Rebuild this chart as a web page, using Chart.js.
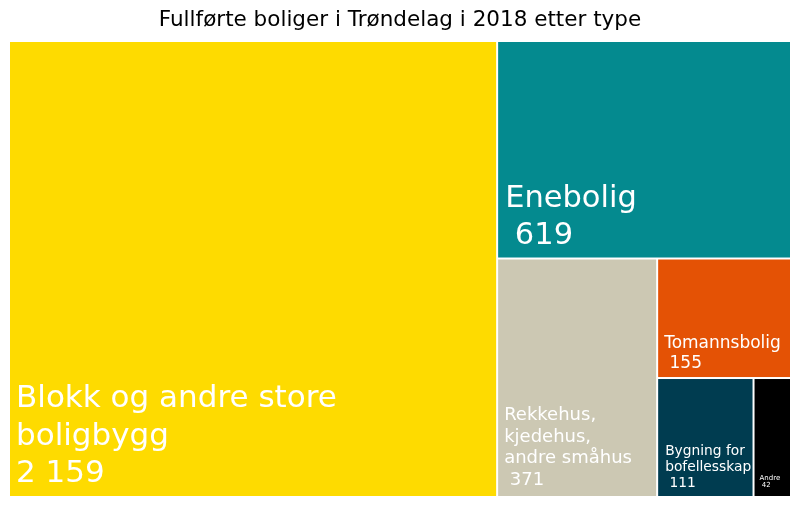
<!DOCTYPE html>
<html>
<head>
<meta charset="utf-8">
<script src="https://cdn.jsdelivr.net/npm/chart.js@4"></script>
<style>
  html, body { margin: 0; padding: 0; background: #ffffff; }
  #wrap { width: 800px; height: 506px; position: relative; }
</style>
</head>
<body>
<div id="wrap"><canvas id="treemap"></canvas></div>
<script>
// Data for the treemap
const categories = [
    "Blokk og andre store boligbygg",
    "Enebolig",
    "Rekkehus, kjedehus, andre småhus",
    "Tomannsbolig",
    "Bygning for bofellesskap",
    "Andre"
];
const values = [2159, 619, 371, 155, 111, 42];
// how the category names are broken into lines inside each cell
const labelLines = [
    ["Blokk og andre store", "boligbygg"],
    ["Enebolig"],
    ["Rekkehus,", "kjedehus,", "andre småhus"],
    ["Tomannsbolig"],
    ["Bygning for", "bofellesskap"],
    ["Andre"]
];

// Styles per cell (kept apart from the data)
const cellColors = ["#fedb00", "#048a8f", "#ccc8b3", "#e45205", "#003c50", "#000000"];
const fontSizes = [31, 30.5, 18, 17, 13.8, 7];
const lineHeights = [37.5, 37, 21.7, 20, 15.8, 7];
const padLeft = [6, 7, 6, 6, 7, 5];
const padBottom = [14, 14, 11, 9, 9, 9];
const indentValue = [false, true, true, true, true, true];

function formatNumber(n) {
    return String(n).replace(/\B(?=(\d{3})+(?!\d))/g, " ");
}

// Slice the area along the longest side, one item at a time
function layoutCells(vals, pxW, pxH) {
    let x = 0, y = 0, rw = 1, rh = 1;
    let remaining = vals.reduce((a, b) => a + b, 0);
    const rects = [];
    vals.forEach(function(v, i) {
        if (i === vals.length - 1) {
            rects.push({ x: x, y: y, w: rw, h: rh });
            return;
        }
        const frac = v / remaining;
        if (rw * pxW >= rh * pxH) {
            rects.push({ x: x, y: y, w: rw * frac, h: rh });
            x += rw * frac;
            rw -= rw * frac;
        } else {
            rects.push({ x: x, y: y, w: rw, h: rh * frac });
            y += rh * frac;
            rh -= rh * frac;
        }
        remaining -= v;
    });
    return rects;
}

const treemapPlugin = {
    id: "treemapCells",
    afterDatasetsDraw(chart) {
        const ctx = chart.ctx;
        const xs = chart.scales.x;
        const ys = chart.scales.y;
        const area = chart.chartArea;
        const rects = layoutCells(values, area.right - area.left, area.bottom - area.top);
        const gap = 1;

        ctx.save();
        rects.forEach(function(r, i) {
            const left = xs.getPixelForValue(r.x);
            const right = xs.getPixelForValue(r.x + r.w);
            const top = ys.getPixelForValue(r.y);
            const bottom = ys.getPixelForValue(r.y + r.h);
            const l = i === 0 ? left : left + gap;
            const rr = right >= area.right - 0.5 ? right : right - gap;
            const t = top <= area.top + 0.5 ? top : top + gap;
            const b = bottom >= area.bottom - 0.5 ? bottom : bottom - gap;
            ctx.fillStyle = cellColors[i];
            ctx.fillRect(l, t, rr - l, b - t);

            // labels, stacked from the bottom left corner
            const lines = labelLines[i].slice();
            lines.push((indentValue[i] ? " " : "") + formatNumber(values[i]));
            ctx.fillStyle = "#ffffff";
            ctx.font = fontSizes[i] + "px 'DejaVu Sans'";
            ctx.textAlign = "left";
            ctx.textBaseline = "alphabetic";
            let baseY = b - padBottom[i];
            for (let k = lines.length - 1; k >= 0; k--) {
                ctx.fillText(lines[k], l + padLeft[i], baseY);
                baseY -= lineHeights[i];
            }
        });
        ctx.restore();
    }
};

new Chart(document.getElementById("treemap"), {
    type: "scatter",
    data: {
        labels: categories,
        datasets: [{ data: [], pointRadius: 0 }]
    },
    options: {
        responsive: true,
        maintainAspectRatio: false,
        animation: false,
        layout: { padding: { left: 10, right: 10, bottom: 10, top: 0 } },
        scales: {
            x: { type: "linear", min: 0, max: 1, display: false },
            y: { type: "linear", min: 0, max: 1, reverse: true, display: false }
        },
        plugins: {
            legend: { display: false },
            tooltip: { enabled: false },
            title: {
                display: true,
                text: "Fullførte boliger i Trøndelag i 2018 etter type",
                color: "#000000",
                font: { family: "'DejaVu Sans'", size: 21.5, weight: "normal", lineHeight: 1.2 },
                padding: { top: 8, bottom: 8.2 }
            }
        }
    },
    plugins: [treemapPlugin]
});
</script>
</body>
</html>
